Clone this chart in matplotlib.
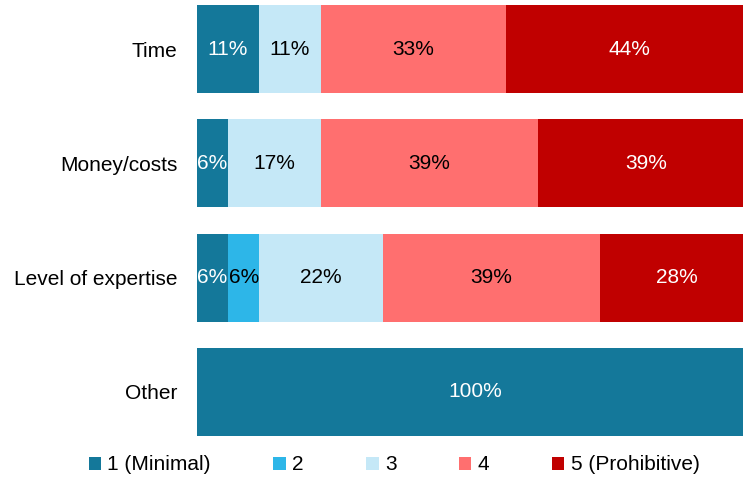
import matplotlib

matplotlib.use("Agg")

import matplotlib.pyplot as plt
import numpy as np

plt.rcParams["font.family"] = ["Liberation Sans", "DejaVu Sans"]

categories = ["Time", "Money/costs", "Level of expertise", "Other"]
levels = ["1 (Minimal)", "2", "3", "4", "5 (Prohibitive)"]
level_1 = [11.1, 5.6, 5.6, 100.0]
level_2 = [0.0, 0.0, 5.6, 0.0]
level_3 = [11.1, 16.7, 22.2, 0.0]
level_4 = [33.3, 38.9, 38.9, 0.0]
level_5 = [44.4, 38.9, 27.8, 0.0]

colors = ["#14789a", "#2db6e8", "#c5e8f7", "#ff6f6f", "#c00000"]
text_colors = ["white", "black", "black", "black", "white"]

series = [level_1, level_2, level_3, level_4, level_5]

fig = plt.figure(figsize=(7.43, 4.79), dpi=100)
ax = fig.add_axes([0.2651, 0.0814, 0.7349, 0.9186])

y = np.arange(len(categories))
left = np.zeros(len(categories))
for values, label, color, tcolor in zip(series, levels, colors, text_colors):
    values = np.array(values)
    bars = ax.barh(y, values, left=left, height=0.77, color=color, label=label)
    for bar, value in zip(bars, values):
        if value <= 0:
            continue
        ax.text(
            bar.get_x() + bar.get_width() / 2,
            bar.get_y() + bar.get_height() / 2,
            f"{value:.0f}%",
            ha="center",
            va="center",
            fontsize=15,
            color=tcolor,
        )
    left += values

# bars run slightly past the right edge of the picture
ax.set_xlim(0, 98)
ax.set_ylim(3.42, -0.4287)
ax.set_yticks(y)
ax.set_yticklabels(categories, fontsize=15)
ax.tick_params(axis="y", length=0, pad=14)
ax.set_xticks([])
for spine in ax.spines.values():
    spine.set_visible(False)

fig.legend(
    loc="center",
    bbox_to_anchor=(394 / 743, 1 - 465 / 479),
    ncol=5,
    frameon=False,
    fontsize=15,
    handlelength=0.6,
    handleheight=0.6,
    handletextpad=0.3,
    columnspacing=3.0,
)

fig.savefig("out.png", dpi=100)
